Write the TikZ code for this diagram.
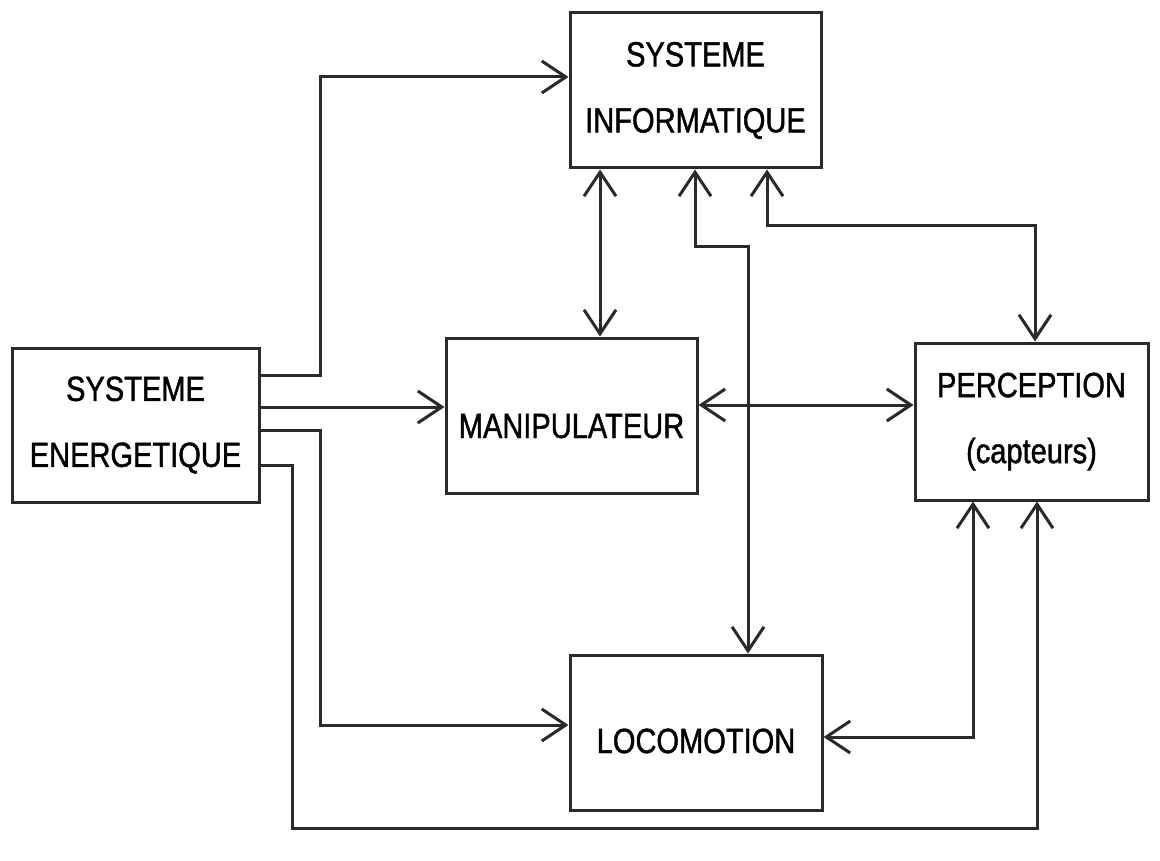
\documentclass[tikz,border=0pt]{standalone}
\usepackage{fontspec}
\newfontfamily\plotfont{Liberation Sans}[FakeStretch=0.83,FakeBold=1.2]
\usetikzlibrary{arrows.meta}
\definecolor{ink}{HTML}{2A2A2A}
\begin{document}
\begin{tikzpicture}[x=1pt,y=-1pt,
  block/.style={draw=ink, text=black, line width=3pt, inner sep=0pt,
    font=\plotfont\fontsize{35}{66}\selectfont},
  twoline/.style={block, align=center},
  link/.style={draw=ink, line width=3pt},
  tip/.style={-{Straight Barb[length=24pt,width=32pt]}},
  tips/.style={{Straight Barb[length=24pt,width=32pt]}-{Straight Barb[length=24pt,width=32pt]}}]
\useasboundingbox[fill=white] (0,0) rectangle (1160,861);

% blocks
\node[twoline, minimum width=251pt, minimum height=155pt] (info)  at (695.5,90.5)  {SYSTEME\\INFORMATIQUE};
\node[twoline, minimum width=247pt, minimum height=154pt] (ener)  at (135.5,425)   {SYSTEME\\ENERGETIQUE};
\node[block, minimum width=251pt, minimum height=155pt, text height=45pt, text depth=0pt] (manip) at (571.5,415.5) {MANIPULATEUR};
\node[twoline, minimum width=233pt, minimum height=157pt] (perc)  at (1031.5,421.5){PERCEPTION\\(capteurs)};
\node[block, minimum width=252pt, minimum height=155pt, text height=41pt, text depth=0pt] (loco)  at (696,732.5)   {LOCOMOTION};

% energy distribution
\draw[link,tip] (ener.east |- 0,375) -- (320,375) |- (info.west |- 0,77);
\draw[link,tip] (ener.east |- 0,407) -- (manip.west |- 0,407);
\draw[link,tip] (ener.east |- 0,430) -- (320,430) |- (loco.west |- 0,725);
\draw[link,tip] (ener.east |- 0,465) -- (292,465) -- (292,828) -| (perc.south -| 1037,0);

% information exchanges
\draw[link,tips] (info.south -| 600,0) -- (manip.north -| 600,0);
\draw[link,tips] (info.south -| 695,0) -- (695,247) -| (loco.north -| 748,0);
\draw[link,tips] (info.south -| 767,0) -- (767,226) -| (perc.north -| 1035,0);
\draw[link,tips] (manip.east |- 0,405) -- (perc.west |- 0,405);
\draw[link,tips] (perc.south -| 973,0) -- (973,737) -- (loco.east |- 0,737);
\end{tikzpicture}
\end{document}
